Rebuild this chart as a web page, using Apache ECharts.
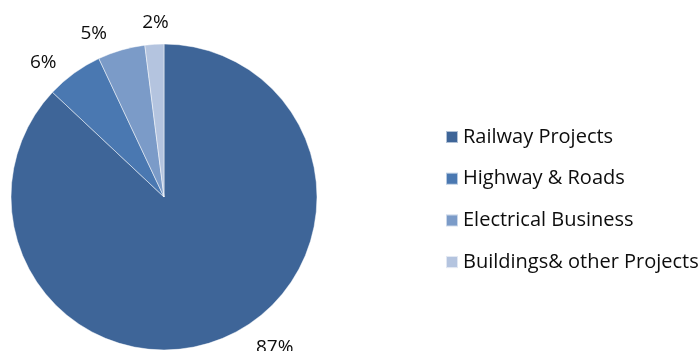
<!DOCTYPE html>
<html>
<head>
<meta charset="utf-8">
<script src="https://cdn.jsdelivr.net/npm/echarts@6/dist/echarts.min.js"></script>
<style>
  html, body { margin: 0; padding: 0; background: #fff; }
  #chart { width: 699px; height: 351px; }
</style>
</head>
<body>
<div id="chart"></div>
<script>
// Share of business by segment (percent)
const categories = ['Railway Projects', 'Highway & Roads', 'Electrical Business', 'Buildings& other Projects'];
const shares = [87, 6, 5, 2];
const colors = ['#3E6598', '#4A78B1', '#7B9BC8', '#B4C4DF'];

// Pie geometry and label placement settings
const PIE_CENTER = [164, 197];
const PIE_RADIUS = 153;
const LABEL_GAP = 13;           // gap between rim and nearest edge of a label
const LABEL_MAX_Y = 348;        // keep label centres above this line
const SLIDE_EXTRA_GAP = 4;      // extra clearance for labels slid along the rim
const labelSpreadDeg = [0, 6, 7, -0.8]; // counter-clockwise spread of crowded labels

const FONT = '"Open Sans", Lato, "Liberation Sans", sans-serif';

const chart = echarts.init(document.getElementById('chart'), null, { renderer: 'canvas' });

function placeLabel(p) {
  const pts = p.labelLinePoints;
  if (!pts) return {};
  const dx = pts[1][0] - pts[0][0];
  const dy = pts[1][1] - pts[0][1];
  const w = p.labelRect.width, h = p.labelRect.height * 0.8;
  let ang = Math.atan2(dy, dx) - (labelSpreadDeg[p.dataIndex] || 0) * Math.PI / 180;
  let extra = 0;
  const dist = a => PIE_RADIUS + LABEL_GAP + extra + Math.abs(Math.cos(a)) * w / 2 + Math.abs(Math.sin(a)) * h / 2;
  let y = PIE_CENTER[1] + Math.sin(ang) * dist(ang);
  if (y > LABEL_MAX_Y) {
    // slide the label round the rim until it fits above the bottom edge
    extra = SLIDE_EXTRA_GAP;
    const right = Math.cos(ang) >= 0;
    for (let k = 0; k < 6; k++) {
      const s = Math.min(1, (LABEL_MAX_Y - PIE_CENTER[1]) / dist(ang));
      ang = right ? Math.asin(s) : Math.PI - Math.asin(s);
    }
  }
  const d = dist(ang);
  return {
    x: PIE_CENTER[0] + Math.cos(ang) * d,
    y: PIE_CENTER[1] + Math.sin(ang) * d,
    align: 'center',
    verticalAlign: 'middle'
  };
}

chart.setOption({
  animation: false,
  color: colors,
  legend: {
    orient: 'vertical',
    left: 445,
    top: 127,
    padding: 0,
    icon: 'rect',
    itemWidth: 12,
    itemHeight: 12,
    itemGap: 21.7,
    textStyle: { fontFamily: FONT, fontSize: 20, color: '#0d0d0d', lineHeight: 20 },
    data: categories
  },
  series: [{
    type: 'pie',
    center: PIE_CENTER,
    radius: PIE_RADIUS,
    startAngle: 90,
    clockwise: true,
    avoidLabelOverlap: false,
    itemStyle: { borderColor: 'rgba(255,255,255,0.6)', borderWidth: 0.8 },
    label: {
      show: true,
      position: 'outside',
      formatter: '{c}%',
      fontFamily: FONT,
      fontSize: 19,
      color: '#0d0d0d'
    },
    labelLine: { show: true, length: 20, length2: 0, lineStyle: { opacity: 0 } },
    labelLayout: placeLabel,
    data: categories.map((name, i) => ({ name: name, value: shares[i] }))
  }]
});
</script>
</body>
</html>
